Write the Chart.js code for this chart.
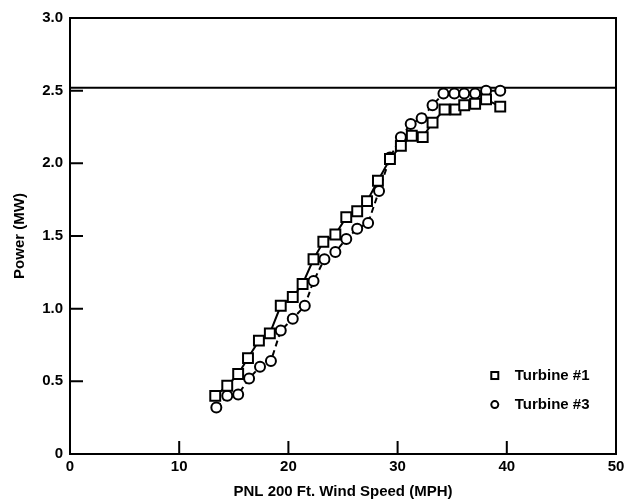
<!DOCTYPE html>
<html>
<head>
<meta charset="utf-8">
<script src="https://cdn.jsdelivr.net/npm/chart.js@4"></script>
<style>
  body { margin: 0; background: #fff; }
  #wrap { width: 632px; height: 504px; }
</style>
</head>
<body>
<div id="wrap"><canvas id="powerChart" width="632" height="504"></canvas></div>
<script>
// wind speed (MPH) and power (MW)
var windT1  = [13.3, 14.4, 15.4, 16.3, 17.3, 18.3, 19.3, 20.4, 21.3, 22.3, 23.2, 24.3, 25.3, 26.3, 27.2, 28.2, 29.3, 30.3, 31.3, 32.3, 33.2, 34.3, 35.3, 36.1, 37.1, 38.1, 39.4];
var powerT1 = [0.40, 0.47, 0.55, 0.66, 0.78, 0.83, 1.02, 1.08, 1.17, 1.34, 1.46, 1.51, 1.63, 1.67, 1.74, 1.88, 2.03, 2.12, 2.19, 2.18, 2.28, 2.37, 2.37, 2.40, 2.41, 2.44, 2.39];
var windT3  = [13.4, 14.4, 15.4, 16.4, 17.4, 18.4, 19.3, 20.4, 21.5, 22.3, 23.3, 24.3, 25.3, 26.3, 27.3, 28.3, 29.3, 30.3, 31.2, 32.2, 33.2, 34.2, 35.2, 36.1, 37.1, 38.1, 39.4];
var powerT3 = [0.32, 0.40, 0.41, 0.52, 0.60, 0.64, 0.85, 0.93, 1.02, 1.19, 1.34, 1.39, 1.48, 1.55, 1.59, 1.81, 2.04, 2.18, 2.27, 2.31, 2.40, 2.48, 2.48, 2.48, 2.48, 2.50, 2.50];
var ratedPower = 2.52;
var xTicks = [0, 10, 20, 30, 40, 50];
var yTicks = [0, 0.5, 1.0, 1.5, 2.0, 2.5, 3.0];
var xInnerTicks = [10, 20, 30, 40];
var yInnerTicks = [0.5, 1.0, 1.5, 2.0, 2.5];
var legendNames = ['Turbine #1', 'Turbine #3'];

var FONT = 'Liberation Sans, Arial, sans-serif';

function pairs(xs, ys) {
    return xs.map(function (x, i) { return { x: x, y: ys[i] }; });
}

// frame, inner tick marks and the legend inside the plot
var framePlugin = {
    id: 'frame',
    afterDraw: function (chart) {
        var ctx = chart.ctx, a = chart.chartArea;
        var xs = chart.scales.x, ys = chart.scales.y;
        ctx.save();
        ctx.strokeStyle = '#000';
        ctx.lineWidth = 2;
        ctx.strokeRect(a.left, a.top, a.right - a.left, a.bottom - a.top);
        ctx.beginPath();
        xInnerTicks.forEach(function (v) {
            var px = xs.getPixelForValue(v);
            ctx.moveTo(px, a.bottom);
            ctx.lineTo(px, a.bottom - 13);
        });
        yInnerTicks.forEach(function (v) {
            var py = ys.getPixelForValue(v);
            ctx.moveTo(a.left, py);
            ctx.lineTo(a.left + 13, py);
        });
        ctx.stroke();

        // legend
        var lx = xs.getPixelForValue(38.9);
        var rows = [ys.getPixelForValue(0.54), ys.getPixelForValue(0.34)];
        ctx.lineWidth = 2;
        ctx.fillStyle = '#000';
        ctx.font = 'bold 15px ' + FONT;
        ctx.textBaseline = 'middle';
        ctx.strokeRect(lx - 3.5, rows[0] - 3.5, 7, 7);
        ctx.beginPath();
        ctx.arc(lx, rows[1], 3.5, 0, Math.PI * 2);
        ctx.stroke();
        ctx.fillText(legendNames[0], lx + 20, rows[0]);
        ctx.fillText(legendNames[1], lx + 20, rows[1]);
        ctx.restore();
    }
};

var chart = new Chart(document.getElementById('powerChart').getContext('2d'), {
    type: 'line',
    data: {
        datasets: [{
            label: legendNames[0],
            data: pairs(windT1, powerT1),
            borderColor: '#000',
            borderWidth: 2,
            pointStyle: 'rect',
            pointRadius: 7,
            pointBorderWidth: 2,
            pointBackgroundColor: '#fff',
            pointBorderColor: '#000',
            tension: 0
        }, {
            label: legendNames[1],
            data: pairs(windT3, powerT3),
            borderColor: '#000',
            borderWidth: 2,
            borderDash: [6, 4],
            pointStyle: 'circle',
            pointRadius: 5,
            pointBorderWidth: 2,
            pointBackgroundColor: '#fff',
            pointBorderColor: '#000',
            tension: 0
        }, {
            label: 'rated',
            data: [{ x: 0, y: ratedPower }, { x: 50, y: ratedPower }],
            borderColor: '#000',
            borderWidth: 2,
            pointRadius: 0
        }]
    },
    options: {
        responsive: false,
        animation: false,
        layout: { padding: { top: 18, right: 16, left: 0, bottom: 0 } },
        plugins: { legend: { display: false }, tooltip: { enabled: false } },
        scales: {
            x: {
                type: 'linear',
                min: 0,
                max: 50,
                afterBuildTicks: function (s) { s.ticks = xTicks.map(function (v) { return { value: v }; }); },
                afterFit: function (s) { s.height = 50; },
                grid: { display: false, drawTicks: false },
                border: { display: true, color: '#000', width: 2 },
                ticks: { color: '#000', padding: 4, font: { family: FONT, size: 15, weight: 'bold' } },
                title: {
                    display: true,
                    text: 'PNL 200 Ft. Wind Speed (MPH)',
                    color: '#000',
                    font: { family: FONT, size: 15, weight: 'bold' },
                    padding: { top: 0, bottom: 3 }
                }
            },
            y: {
                type: 'linear',
                min: 0,
                max: 3,
                afterBuildTicks: function (s) { s.ticks = yTicks.map(function (v) { return { value: v }; }); },
                afterFit: function (s) { s.width = 70; },
                grid: { display: false, drawTicks: false },
                border: { display: true, color: '#000', width: 2 },
                ticks: {
                    color: '#000',
                    padding: 7,
                    font: { family: FONT, size: 15, weight: 'bold' },
                    callback: function (v) { return v === 0 ? '0' : v.toFixed(1); }
                },
                title: {
                    display: true,
                    text: 'Power (MW)',
                    color: '#000',
                    font: { family: FONT, size: 15, weight: 'bold' },
                    padding: { top: 11, bottom: 0 }
                }
            }
        }
    },
    plugins: [framePlugin]
});
</script>
</body>
</html>
